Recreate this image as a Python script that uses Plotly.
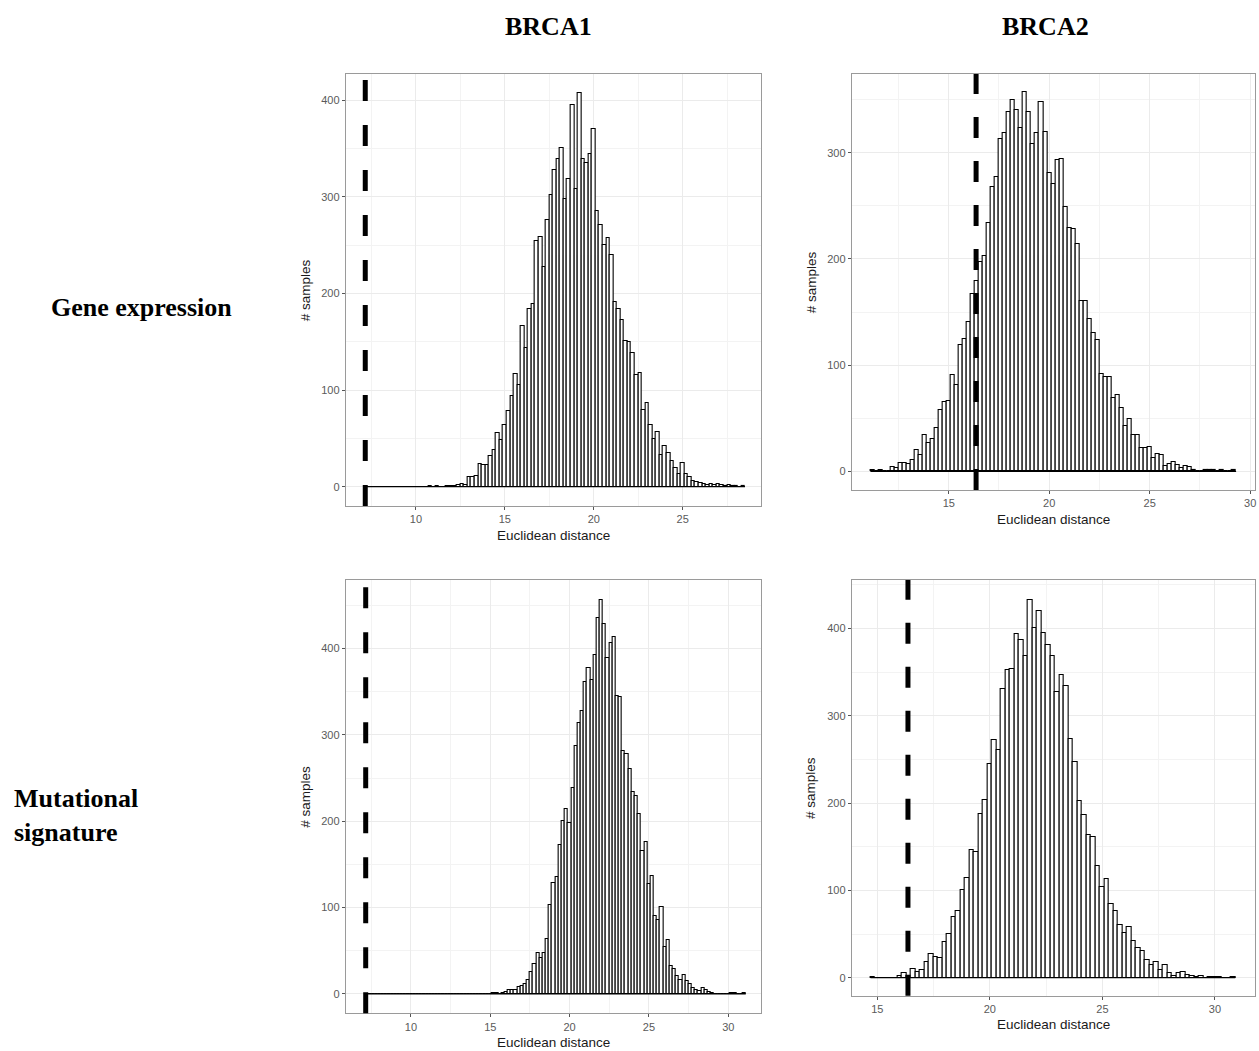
import plotly.graph_objects as go

# ---------------- data ----------------
BIN_WIDTH = 0.2

# BRCA1 / gene expression : bin centres start at 7.2
ge_brca1_start = 7.2
ge_brca1_counts = [
    0, 0, 0, 0, 0, 0, 0, 0, 0, 0, 0, 0, 0, 0, 0, 0, 0, 0,
    1, 0, 1, 0, 0, 1, 1, 1,
    2, 3, 2, 10, 10, 11, 23, 22, 22, 32,
    38, 56, 48, 64, 78, 94, 117, 105, 166, 143,
    184, 189, 254, 258, 227, 276, 302, 328, 339, 350,
    298, 318, 395, 308, 407, 339, 335, 344, 370, 285,
    271, 250, 257, 240, 191, 184, 172, 151, 150, 138,
    116, 118, 79, 87, 64, 49, 57, 33, 42, 35,
    27, 19, 13, 25, 13, 10, 6, 5, 4, 3,
    2, 3, 2, 3, 2, 1, 2, 1, 1, 0,
    1,
]

# BRCA2 / gene expression : bin centres start at 11.2
ge_brca2_start = 11.2
ge_brca2_counts = [
    1, 0, 1, 0, 0, 4, 3, 8, 8, 7,
    11, 20, 15, 34, 27, 30, 41, 58, 65, 66,
    91, 81, 119, 125, 141, 167, 179, 197, 203, 234,
    268, 277, 313, 319, 338, 350, 340, 323, 357, 338,
    308, 319, 348, 320, 281, 271, 293, 294, 249, 229,
    228, 214, 160, 160, 143, 130, 124, 92, 89, 89,
    69, 72, 60, 43, 49, 34, 34, 22, 22, 23,
    13, 16, 15, 5, 7, 9, 6, 3, 5, 4,
    1, 0, 0, 1, 1, 1, 0, 1, 0, 0,
    1,
]

# BRCA1 / mutational signature : bin centres start at 7.2
ms_brca1_start = 7.2
ms_brca1_counts = [
    0, 0, 0, 0, 0, 0, 0, 0, 0, 0,
    0, 0, 0, 0, 0, 0, 0, 0, 0, 0,
    0, 0, 0, 0, 0, 0, 0, 0, 0, 0,
    0, 0, 0, 0, 0, 0, 0, 0, 0, 0,
    1, 1, 0, 1, 2, 5, 5, 5, 8, 9,
    12, 16, 25, 35, 47, 42, 47, 64, 103, 129,
    135, 172, 200, 214, 198, 239, 287, 314, 328, 361,
    377, 364, 393, 436, 456, 428, 389, 406, 413, 345,
    344, 281, 278, 261, 234, 229, 208, 165, 176, 127,
    136, 90, 86, 101, 54, 62, 32, 29, 21, 16,
    22, 15, 11, 7, 5, 3, 7, 4, 2, 1,
    0, 0, 0, 0, 0, 1, 1, 0, 0, 1,
]

# BRCA2 / mutational signature : bin centres start at 14.8
ms_brca2_start = 14.8
ms_brca2_counts = [
    1, 0, 0, 0, 0, 0, 2, 5, 2, 10,
    6, 9, 18, 27, 24, 23, 41, 50, 70, 76,
    100, 114, 146, 144, 187, 203, 245, 272, 261, 331,
    353, 354, 394, 387, 369, 433, 401, 420, 395, 381,
    368, 327, 347, 334, 273, 247, 202, 186, 163, 161,
    128, 104, 113, 84, 76, 60, 51, 58, 42, 34,
    31, 20, 15, 18, 9, 14, 5, 2, 5, 6,
    3, 2, 1, 2, 0, 1, 1, 1, 0, 0,
    1,
]

# observed distances (dashed lines)
observed_brca1 = 7.15
observed_brca2 = 16.36

column_titles = ["BRCA1", "BRCA2"]
row_titles = ["Gene expression", "Mutational<br>signature"]
x_title = "Euclidean distance"
y_title = "# samples"

# ---------------- layout geometry (pixels) ----------------
W, H = 1259, 1051
panels = [
    dict(start=ge_brca1_start, counts=ge_brca1_counts, obs=observed_brca1,
         l=345.7, r=761, t=74, b=506, xr=[6.05, 29.4], yr=[-20.0, 427.0], dash="21px,24px"),
    dict(start=ge_brca2_start, counts=ge_brca2_counts, obs=observed_brca2,
         l=851.7, r=1255, t=74, b=490, xr=[10.17, 30.24], yr=[-17.6, 374.2], dash="21px,23px"),
    dict(start=ms_brca1_start, counts=ms_brca1_counts, obs=observed_brca1,
         l=345.7, r=761, t=580, b=1013.3, xr=[5.89, 32.06], yr=[-22.5, 479.5], dash="21px,24px"),
    dict(start=ms_brca2_start, counts=ms_brca2_counts, obs=observed_brca2,
         l=851.7, r=1255, t=580, b=995.7, xr=[13.86, 31.78], yr=[-20.6, 455.5], dash="21px,23px"),
]

fig = go.Figure()
TICK_FONT = dict(family="Liberation Sans, Arial, sans-serif", size=11, color="#5a5a5a")
TITLE_FONT = dict(family="Liberation Sans, Arial, sans-serif", size=13.5, color="#1a1a1a")
HEAD_FONT = dict(family="Liberation Serif, Times New Roman, serif", size=26, color="#000000")

annotations = []
shapes = []
for i, p in enumerate(panels, start=1):
    xa = "x" if i == 1 else f"x{i}"
    ya = "y" if i == 1 else f"y{i}"
    n = len(p["counts"])
    centers = [round(p["start"] + k * BIN_WIDTH, 4) for k in range(n)]
    lo = centers[0] - BIN_WIDTH / 2
    hi = centers[-1] + BIN_WIDTH / 2
    fig.add_trace(go.Bar(
        x=centers, y=p["counts"], width=BIN_WIDTH,
        marker=dict(color="white", line=dict(color="black", width=1.1)),
        xaxis=xa, yaxis=ya, showlegend=False, hoverinfo="x+y",
    ))
    # zero-count bins: flat outline along the baseline
    fig.add_trace(go.Scatter(
        x=[lo, hi], y=[0, 0], mode="lines", line=dict(color="black", width=1.2),
        xaxis=xa, yaxis=ya, showlegend=False, hoverinfo="skip",
    ))
    xdom = [p["l"] / W, p["r"] / W]
    ydom = [1 - p["b"] / H, 1 - p["t"] / H]
    axis_common = dict(
        showline=True, mirror=True, linecolor="#9a9a9a", linewidth=1,
        showgrid=True, gridcolor="#ebebeb", gridwidth=1, zeroline=False,
        ticks="outside", ticklen=3, tickwidth=1, tickcolor="#555555",
        tickfont=TICK_FONT, fixedrange=True,
    )
    fig.update_layout(**{
        ("xaxis" if i == 1 else f"xaxis{i}"): dict(
            domain=xdom, range=p["xr"], anchor=ya, tick0=0, dtick=5,
            minor=dict(dtick=2.5, tick0=0, showgrid=True, gridcolor="#f3f3f3", gridwidth=0.6),
            **axis_common),
        ("yaxis" if i == 1 else f"yaxis{i}"): dict(
            domain=ydom, range=p["yr"], anchor=xa, tick0=0, dtick=100,
            minor=dict(dtick=50, tick0=0, showgrid=True, gridcolor="#f3f3f3", gridwidth=0.6),
            **axis_common),
    })
    # dashed vertical line at the observed distance
    shapes.append(dict(
        type="line", xref=xa, yref=f"{ya} domain", x0=p["obs"], x1=p["obs"], y0=0, y1=1,
        line=dict(color="black", width=5, dash=p["dash"]), layer="above",
    ))
    # axis titles
    annotations.append(dict(
        text=x_title, xref="paper", yref="paper",
        x=(p["l"] + p["r"]) / 2 / W, y=1 - (p["b"] + 29) / H,
        showarrow=False, font=TITLE_FONT, xanchor="center", yanchor="middle",
    ))
    annotations.append(dict(
        text=y_title, xref="paper", yref="paper",
        x=(p["l"] - 40.5) / W, y=1 - (p["t"] + p["b"]) / 2 / H,
        showarrow=False, font=TITLE_FONT, textangle=-90, xanchor="center", yanchor="middle",
    ))

# column and row headers
for txt, cx in zip(column_titles, [548, 1045]):
    annotations.append(dict(text=f"<b>{txt}</b>", xref="paper", yref="paper",
                            x=cx / W, y=1 - 27 / H, showarrow=False, font=HEAD_FONT,
                            xanchor="center", yanchor="middle"))
annotations.append(dict(text=f"<b>{row_titles[0]}</b>", xref="paper", yref="paper",
                        x=234 / W, y=1 - 308 / H, showarrow=False, font=HEAD_FONT,
                        xanchor="right", yanchor="middle", align="right"))
annotations.append(dict(text=f"<b>{row_titles[1]}</b>", xref="paper", yref="paper",
                        x=12 / W, y=1 - 815 / H, showarrow=False, font=HEAD_FONT,
                        xanchor="left", yanchor="middle", align="left"))

fig.update_layout(
    width=W, height=H, autosize=False,
    margin=dict(l=0, r=0, t=0, b=0),
    paper_bgcolor="white", plot_bgcolor="white",
    bargap=0, barmode="overlay",
    shapes=shapes, annotations=annotations,
    font=dict(family="Liberation Sans, Arial, sans-serif"),
)

fig.write_html("out.html")
